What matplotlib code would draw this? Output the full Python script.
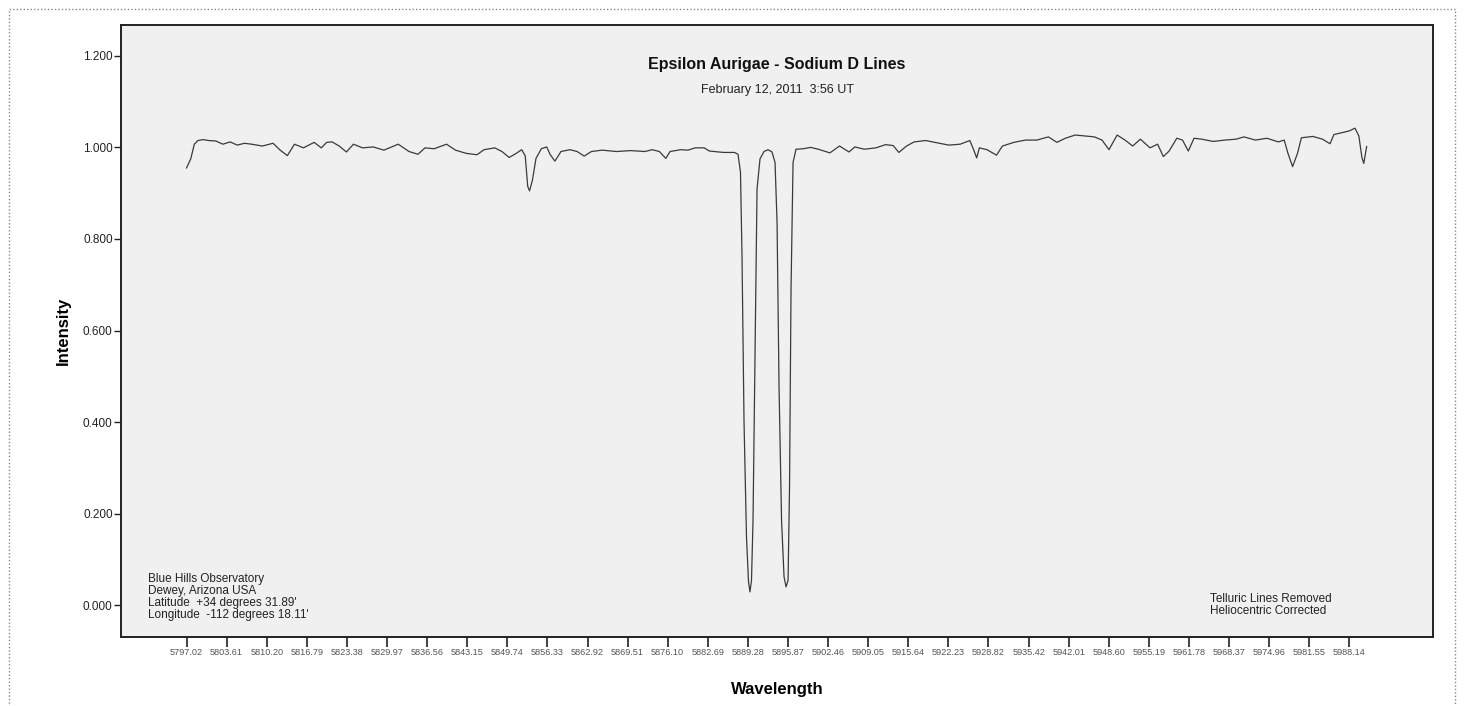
#!/usr/bin/env python3
import matplotlib
matplotlib.use('Agg')
from matplotlib import pyplot as plt
from matplotlib.patches import Rectangle
from matplotlib.ticker import FixedLocator, FuncFormatter

plt.rcParams['font.family'] = ['Liberation Sans', 'DejaVu Sans']

#------- data ---------------------------------
wavelength = [
    5797.01, 5797.71, 5798.30, 5798.89, 5799.77, 5800.65, 5801.83, 5803.00, 5804.18, 5805.36,
    5806.53, 5807.71, 5809.47, 5811.24, 5812.41, 5813.59, 5814.76, 5816.23, 5817.99, 5819.17,
    5820.05, 5820.94, 5822.11, 5823.29, 5824.46, 5825.93, 5827.70, 5829.46, 5831.81, 5833.58,
    5835.05, 5836.22, 5837.69, 5839.75, 5841.22, 5842.98, 5844.75, 5845.92, 5847.68, 5848.86,
    5850.04, 5851.21, 5852.09, 5852.68, 5853.09, 5853.39, 5853.86, 5854.45, 5855.33, 5856.21,
    5856.80, 5857.56, 5858.56, 5860.03, 5861.21, 5862.38, 5863.56, 5865.32, 5867.67, 5870.02,
    5872.37, 5873.55, 5874.73, 5875.79, 5876.49, 5878.26, 5879.43, 5880.61, 5882.08, 5882.96,
    5885.31, 5887.07, 5887.65, 5888.06, 5888.31, 5888.64, 5889.05, 5889.38, 5889.62, 5889.87,
    5890.12, 5890.45, 5890.78, 5891.27, 5891.93, 5892.59, 5893.24, 5893.74, 5894.07, 5894.40,
    5894.81, 5895.22, 5895.55, 5895.88, 5896.12, 5896.37, 5896.70, 5897.19, 5898.34, 5899.60,
    5900.86, 5902.75, 5904.33, 5905.90, 5906.85, 5908.42, 5910.31, 5911.89, 5913.15, 5914.09,
    5915.35, 5916.61, 5918.50, 5920.40, 5922.29, 5924.17, 5925.75, 5926.38, 5926.88, 5927.32,
    5928.58, 5930.14, 5931.11, 5933.00, 5934.89, 5936.78, 5938.67, 5940.06, 5941.46, 5943.07,
    5944.65, 5946.22, 5947.48, 5948.62, 5949.96, 5951.26, 5952.52, 5953.78, 5955.36, 5956.62,
    5957.56, 5958.51, 5959.77, 5960.71, 5961.66, 5962.60, 5963.86, 5965.76, 5967.65, 5969.54,
    5970.80, 5972.69, 5974.58, 5976.47, 5977.42, 5978.04, 5978.80, 5979.61, 5980.24, 5982.13,
    5983.70, 5984.96, 5985.59, 5986.85, 5988.11, 5989.06, 5989.69, 5990.19, 5990.50, 5990.97,
]
intensity = [
    0.955, 0.975, 1.007, 1.015, 1.017, 1.015, 1.014, 1.007, 1.012, 1.005,
    1.009, 1.007, 1.003, 1.009, 0.994, 0.982, 1.007, 0.999, 1.011, 0.999,
    1.011, 1.012, 1.003, 0.990, 1.007, 0.999, 1.001, 0.994, 1.007, 0.991,
    0.985, 0.999, 0.997, 1.007, 0.994, 0.987, 0.984, 0.995, 0.999, 0.991,
    0.978, 0.987, 0.995, 0.982, 0.915, 0.905, 0.928, 0.976, 0.997, 1.001,
    0.984, 0.970, 0.991, 0.995, 0.991, 0.981, 0.991, 0.994, 0.991, 0.993,
    0.991, 0.995, 0.991, 0.976, 0.991, 0.995, 0.994, 0.999, 0.999, 0.992,
    0.989, 0.989, 0.985, 0.946, 0.765, 0.402, 0.148, 0.051, 0.029, 0.054,
    0.185, 0.548, 0.909, 0.975, 0.991, 0.995, 0.990, 0.967, 0.837, 0.475,
    0.185, 0.062, 0.040, 0.054, 0.257, 0.692, 0.967, 0.996, 0.997, 1.000,
    0.996, 0.988, 1.003, 0.990, 1.001, 0.996, 0.999, 1.006, 1.004, 0.989,
    1.003, 1.012, 1.015, 1.010, 1.005, 1.007, 1.015, 0.995, 0.977, 0.999,
    0.995, 0.983, 1.003, 1.011, 1.016, 1.016, 1.023, 1.011, 1.020, 1.027,
    1.025, 1.023, 1.016, 0.995, 1.027, 1.016, 1.003, 1.018, 0.999, 1.007,
    0.980, 0.992, 1.020, 1.016, 0.992, 1.020, 1.018, 1.013, 1.016, 1.018,
    1.023, 1.016, 1.020, 1.012, 1.016, 0.987, 0.958, 0.987, 1.021, 1.024,
    1.018, 1.008, 1.028, 1.032, 1.036, 1.042, 1.025, 0.978, 0.965, 1.002,
]
tick_wavelengths = [
    5797.02, 5803.61, 5810.20, 5816.79, 5823.38, 5829.97, 5836.56, 5843.15, 5849.74, 5856.33,
    5862.92, 5869.51, 5876.10, 5882.69, 5889.28, 5895.87, 5902.46, 5909.05, 5915.64, 5922.23,
    5928.82, 5935.42, 5942.01, 5948.60, 5955.19, 5961.78, 5968.37, 5974.96, 5981.55, 5988.14,
]
y_ticks = [0.0, 0.2, 0.4, 0.6, 0.8, 1.0, 1.2]

title = 'Epsilon Aurigae - Sodium D Lines'
subtitle = 'February 12, 2011  3:56 UT'
site_note = ("Blue Hills Observatory\nDewey, Arizona USA\n"
             "Latitude  +34 degrees 31.89'\nLongitude  -112 degrees 18.11'")
proc_note = 'Telluric Lines Removed\nHeliocentric Corrected'
#--------------------

fig = plt.figure(figsize=(14.64, 7.06), dpi=100)
ax = fig.add_axes([0.0827, 0.0977, 0.8961, 0.8669])
ax.set_facecolor('#f0f0f0')

ax.plot(wavelength, intensity, color='#3a3a3a', linewidth=0.9)

ax.set_xlim(5786.26, 6001.87)
ax.set_ylim(-0.0696, 1.2674)

ax.xaxis.set_major_locator(FixedLocator(tick_wavelengths))
ax.xaxis.set_major_formatter(FuncFormatter(lambda v, p: '%.2f' % v))
ax.yaxis.set_major_locator(FixedLocator(y_ticks))
ax.yaxis.set_major_formatter(FuncFormatter(lambda v, p: '%.3f' % v))
ax.tick_params(axis='x', labelsize=6.6, length=7, width=1.2, colors='#222222',
               labelcolor='#555555', pad=1)
ax.tick_params(axis='y', labelsize=8.5, length=5, width=1, colors='#222222', pad=1)

for s in ax.spines.values():
    s.set_linewidth(1.4)
    s.set_color('#222222')

ax.set_ylabel('Intensity', fontsize=12, fontweight='bold', labelpad=9)
ax.set_xlabel('Wavelength', fontsize=12, fontweight='bold', labelpad=18)

ax.text(0.5, 0.935, title, transform=ax.transAxes, ha='center', va='center',
        fontsize=11.5, fontweight='bold', color='#111111')
ax.text(0.5, 0.893, subtitle, transform=ax.transAxes, ha='center', va='center',
        fontsize=9, color='#222222')
ax.text(0.0206, 0.105, site_note, transform=ax.transAxes, ha='left', va='top',
        fontsize=8.5, color='#222222', linespacing=1.0)
ax.text(0.830, 0.072, proc_note, transform=ax.transAxes, ha='left', va='top',
        fontsize=8.5, color='#222222', linespacing=1.0)

# dotted frame around the chart
fig.patches.append(Rectangle((9 / 1464, -0.05), 1446 / 1464, 1.05 - 9 / 706,
                             transform=fig.transFigure, fill=False,
                             edgecolor='#888888', linestyle=(0, (1, 1.5)),
                             linewidth=1, clip_on=False))

fig.savefig('out.png', dpi=100)
plt.close()
